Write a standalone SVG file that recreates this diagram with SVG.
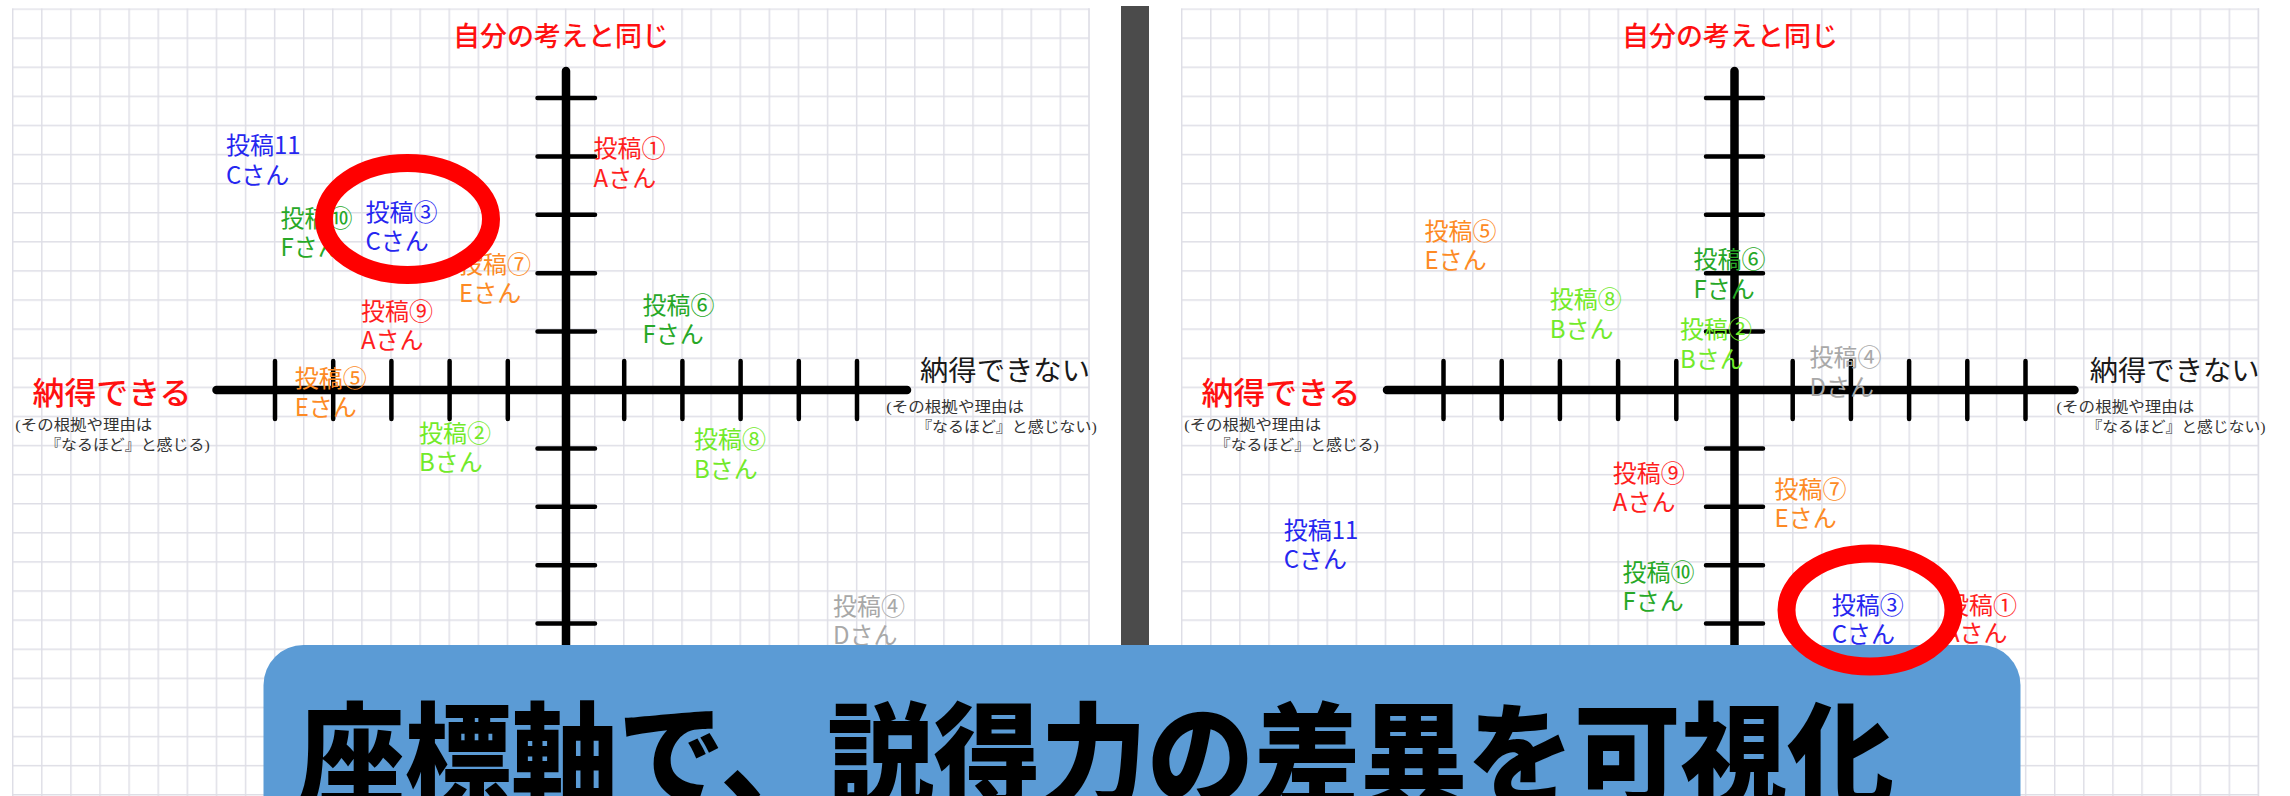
<svg xmlns="http://www.w3.org/2000/svg" width="2290" height="796" viewBox="0 0 2290 796">
<defs>
<pattern id="gridL" width="29.1" height="29.1" patternUnits="userSpaceOnUse" x="12" y="8.3"><path d="M0 0.7H29.1M0.7 0V29.1" stroke="#dedee6" stroke-width="1.5" fill="none"/></pattern>
<pattern id="gridR" width="29.1" height="29.1" patternUnits="userSpaceOnUse" x="1181" y="8.3"><path d="M0 0.7H29.1M0.7 0V29.1" stroke="#dedee6" stroke-width="1.5" fill="none"/></pattern>
</defs>
<style>
.ax{stroke:#000;stroke-width:8.5;stroke-linecap:round;fill:none}
.tk{stroke:#000;stroke-width:4.5;stroke-linecap:round;fill:none}
.lbl{font-family:"Noto Sans CJK JP","Noto Sans",sans-serif;font-size:24px}
.blue{fill:#2626f0}.red{fill:#ff1e1e}.orange{fill:#fd8a24}.green{fill:#27a827}.lime{fill:#72ea2a}.gray{fill:#a8a8a8}
.top{font-family:"Liberation Serif","Noto Sans CJK JP",serif;font-size:27px;fill:#ff1010;font-weight:500}
.ok{font-family:"Liberation Serif","Noto Sans CJK JP",serif;font-size:31px;fill:#ff1010;font-weight:500}
.ng{font-family:"Liberation Serif","Noto Sans CJK JP",serif;font-size:28px;fill:#1a1a1a}
.sm{font-family:"Liberation Serif","Noto Sans CJK JP",serif;font-size:14.5px;fill:#333}
.ring{fill:none;stroke:#ff0000;stroke-width:18}
</style>
<rect width="2290" height="796" fill="#fff"/>
<g id="panel-left-grid">
<rect x="12" y="8.3" width="1077.5" height="790" fill="url(#gridL)"/>
<line x1="1089" y1="8.3" x2="1089" y2="796" stroke="#dedee6" stroke-width="1.5"/>
</g>
<g id="panel-right-grid">
<rect x="1181" y="8.3" width="1078" height="790" fill="url(#gridR)"/>
<line x1="2258.5" y1="8.3" x2="2258.5" y2="796" stroke="#dedee6" stroke-width="1.5"/>
</g>
<rect id="divider" x="1121" y="6" width="28" height="790" fill="#4b4b4b"/>

<g id="connectors">
<g id="axes-left">
<line class="ax" x1="566" y1="71" x2="566" y2="720"/>
<line class="ax" x1="216.5" y1="390" x2="907" y2="390"/>
<path class="tk" d="M275 361V419M333.2 361V419M391.4 361V419M449.6 361V419M507.8 361V419M624.2 361V419M682.4 361V419M740.6 361V419M798.8 361V419M857 361V419"/>
<path class="tk" d="M537.5 98H595M537.5 156.4H595M537.5 214.8H595M537.5 273.2H595M537.5 331.6H595M537.5 448.4H595M537.5 506.8H595M537.5 565.2H595M537.5 623.6H595M537.5 682H595"/>
</g>
<g id="axes-right">
<line class="ax" x1="1734.5" y1="71" x2="1734.5" y2="720"/>
<line class="ax" x1="1387" y1="390" x2="2074.5" y2="390"/>
<path class="tk" d="M1443.5 361V419M1501.7 361V419M1559.9 361V419M1618.1 361V419M1676.3 361V419M1792.7 361V419M1850.9 361V419M1909.1 361V419M1967.3 361V419M2025.5 361V419"/>
<path class="tk" d="M1706 98H1763M1706 156.4H1763M1706 214.8H1763M1706 273.2H1763M1706 331.6H1763M1706 448.4H1763M1706 506.8H1763M1706 565.2H1763M1706 623.6H1763M1706 682H1763"/>
</g>
</g>

<g id="axis-labels-left">
<text class="top" x="561" y="46" text-anchor="middle">自分の考えと同じ</text>
<text class="ok" x="32.5" y="404" textLength="159" lengthAdjust="spacingAndGlyphs">納得できる</text>
<text class="sm" x="15.3" y="430" textLength="137" lengthAdjust="spacingAndGlyphs">(その根拠や理由は</text>
<text class="sm" x="45.2" y="450" textLength="164.5" lengthAdjust="spacingAndGlyphs">『なるほど』と感じる)</text>
<text class="ng" x="920" y="381" textLength="170" lengthAdjust="spacingAndGlyphs">納得できない</text>
<text class="sm" x="886.3" y="412" textLength="137.7" lengthAdjust="spacingAndGlyphs">(その根拠や理由は</text>
<text class="sm" x="916.2" y="432" textLength="180.6" lengthAdjust="spacingAndGlyphs">『なるほど』と感じない)</text>
</g>
<g id="axis-labels-right">
<text class="top" x="1730" y="46" text-anchor="middle">自分の考えと同じ</text>
<text class="ok" x="1201.4" y="404" textLength="159" lengthAdjust="spacingAndGlyphs">納得できる</text>
<text class="sm" x="1184.2" y="430" textLength="137" lengthAdjust="spacingAndGlyphs">(その根拠や理由は</text>
<text class="sm" x="1214.8" y="450" textLength="164" lengthAdjust="spacingAndGlyphs">『なるほど』と感じる)</text>
<text class="ng" x="2089.7" y="381" textLength="170" lengthAdjust="spacingAndGlyphs">納得できない</text>
<text class="sm" x="2056.6" y="412" textLength="137.7" lengthAdjust="spacingAndGlyphs">(その根拠や理由は</text>
<text class="sm" x="2086.5" y="432" textLength="179" lengthAdjust="spacingAndGlyphs">『なるほど』と感じない)</text>
</g>

<g id="left-posts">
<g id="L-post11"><text class="lbl blue" x="226" y="154"><tspan x="226">投稿11</tspan><tspan x="226" dy="29.5">Cさん</tspan></text></g>
<g id="L-post10"><text class="lbl green" x="280.5" y="227"><tspan x="280.5">投稿⑩</tspan><tspan x="280.5" dy="29">Fさん</tspan></text></g>
<g id="L-post3"><text class="lbl blue" x="365.5" y="221"><tspan x="365.5">投稿③</tspan><tspan x="365.5" dy="29">Cさん</tspan></text></g>
<g id="L-post7"><text class="lbl orange" x="459" y="273"><tspan x="459">投稿⑦</tspan><tspan x="459" dy="28.5">Eさん</tspan></text></g>
<g id="L-post9"><text class="lbl red" x="361" y="320"><tspan x="361">投稿⑨</tspan><tspan x="361" dy="29">Aさん</tspan></text></g>
<g id="L-post1"><text class="lbl red" x="593.6" y="157"><tspan x="593.6">投稿①</tspan><tspan x="593.6" dy="30">Aさん</tspan></text></g>
<g id="L-post6"><text class="lbl green" x="642.6" y="314"><tspan x="642.6">投稿⑥</tspan><tspan x="642.6" dy="29">Fさん</tspan></text></g>
<g id="L-post5"><text class="lbl orange" x="294.7" y="387"><tspan x="294.7">投稿⑤</tspan><tspan x="294.7" dy="29">Eさん</tspan></text></g>
<g id="L-post2"><text class="lbl lime" x="419" y="442"><tspan x="419">投稿②</tspan><tspan x="419" dy="29">Bさん</tspan></text></g>
<g id="L-post8"><text class="lbl lime" x="694" y="448"><tspan x="694">投稿⑧</tspan><tspan x="694" dy="30">Bさん</tspan></text></g>
<g id="L-post4"><text class="lbl gray" x="833" y="615"><tspan x="833">投稿④</tspan><tspan x="833" dy="29">Dさん</tspan></text></g>
</g>

<g id="right-posts">
<g id="R-post5"><text class="lbl orange" x="1424.5" y="240"><tspan x="1424.5">投稿⑤</tspan><tspan x="1424.5" dy="29">Eさん</tspan></text></g>
<g id="R-post8"><text class="lbl lime" x="1549.7" y="308"><tspan x="1549.7">投稿⑧</tspan><tspan x="1549.7" dy="30">Bさん</tspan></text></g>
<g id="R-post6"><text class="lbl green" x="1693.6" y="268"><tspan x="1693.6">投稿⑥</tspan><tspan x="1693.6" dy="30">Fさん</tspan></text></g>
<g id="R-post2"><text class="lbl lime" x="1680" y="338"><tspan x="1680">投稿②</tspan><tspan x="1680" dy="30">Bさん</tspan></text></g>
<g id="R-post4"><text class="lbl gray" x="1809.5" y="366"><tspan x="1809.5">投稿④</tspan><tspan x="1809.5" dy="30">Dさん</tspan></text></g>
<g id="R-post9"><text class="lbl red" x="1612.8" y="482"><tspan x="1612.8">投稿⑨</tspan><tspan x="1612.8" dy="29">Aさん</tspan></text></g>
<g id="R-post11"><text class="lbl blue" x="1283.7" y="539"><tspan x="1283.7">投稿11</tspan><tspan x="1283.7" dy="29">Cさん</tspan></text></g>
<g id="R-post10"><text class="lbl green" x="1622.4" y="581"><tspan x="1622.4">投稿⑩</tspan><tspan x="1622.4" dy="29">Fさん</tspan></text></g>
<g id="R-post7"><text class="lbl orange" x="1774.5" y="498"><tspan x="1774.5">投稿⑦</tspan><tspan x="1774.5" dy="28.5">Eさん</tspan></text></g>
<g id="R-post3"><text class="lbl blue" x="1831.7" y="614"><tspan x="1831.7">投稿③</tspan><tspan x="1831.7" dy="29">Cさん</tspan></text></g>
<g id="R-post1"><text class="lbl red" x="1945" y="614"><tspan x="1945">投稿①</tspan><tspan x="1945" dy="27.5">Aさん</tspan></text></g>
</g>

<g id="title-box">
<rect x="263.5" y="645" width="1757" height="220" rx="40" ry="40" fill="#5b9bd5"/>
<text x="298" y="798" textLength="1596" lengthAdjust="spacingAndGlyphs" style="font-family:'Noto Sans CJK JP','Noto Sans',sans-serif;font-size:114px;font-weight:900;fill:#000">座標軸で、説得力の差異を可視化</text>
</g>

<g id="highlight-left"><ellipse class="ring" cx="407.5" cy="219" rx="83.5" ry="56"/></g>
<g id="highlight-right"><ellipse class="ring" cx="1870" cy="610" rx="83.5" ry="56.5"/></g>
</svg>
